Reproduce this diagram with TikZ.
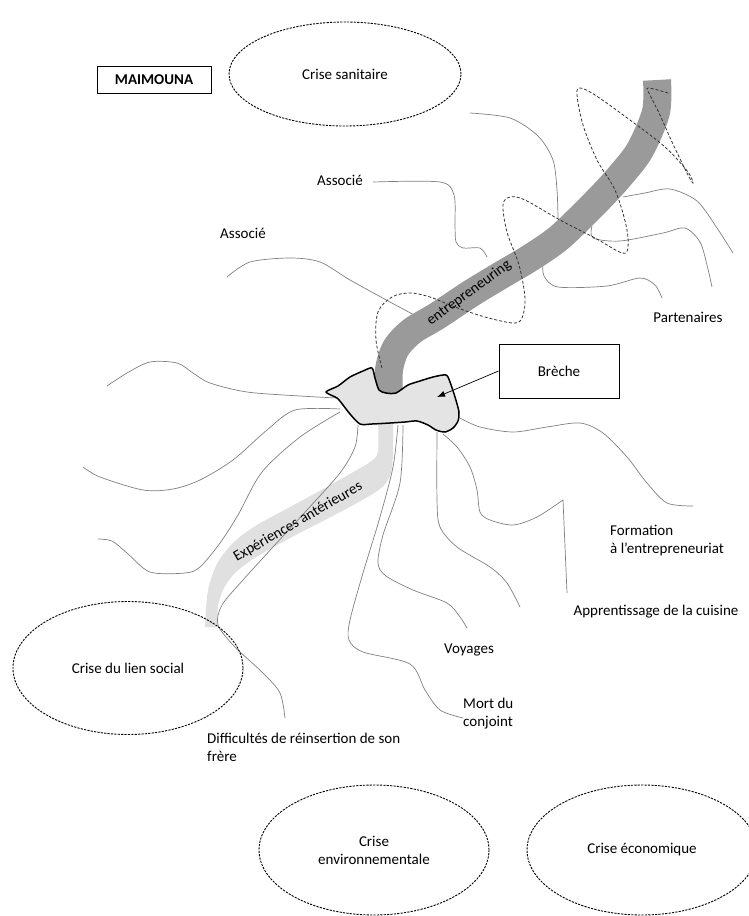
\documentclass[tikz,border=0pt]{standalone}
\usepackage{fontspec}
\setmainfont{Carlito}
\usetikzlibrary{positioning,arrows.meta,shapes.geometric}
\definecolor{bandDark}{HTML}{9A9A9A}
\definecolor{bandLight}{HTML}{E0E0E0}
\definecolor{brecheFill}{HTML}{E4E4E4}
\definecolor{rootGray}{HTML}{808080}
\tikzset{
    crisis/.style={draw=black,ellipse,dash pattern=on 2.2pt off 1.2pt,line width=0.9pt,
        minimum width=230pt,align=center,font=\fontsize{15}{18}\selectfont},
    tag/.style={align=left,inner sep=0pt,font=\fontsize{15}{18}\selectfont},
    framebox/.style={draw=black,line width=0.9pt,align=center,font=\fontsize{15}{18}\selectfont},
    root/.style={draw=rootGray,line width=0.7pt},
    spiral/.style={draw=black!80,dash pattern=on 3pt off 2pt,line width=0.8pt},
    band/.style={line width=#1,line cap=butt},
    pointer/.style={-{Latex[length=8pt,width=6pt]},draw=black,line width=0.7pt}
}

\begin{document}
\begin{tikzpicture}[x=1pt,y=-1pt]
    \useasboundingbox (0,0) rectangle (748,916);
    % bande claire
    \fill[bandLight] plot[smooth] coordinates {(378,420) (378,452) (370,462) (355,471) (323,489) (290,507) (257,525) (235,541) (218,562) (208,590) (205,627)}
        -- plot[smooth] coordinates {(218,627) (218,606) (224,588) (236,572) (258,556) (292,537) (325,520) (357,503) (380,489) (390,476) (393,455) (393,420)} -- cycle;
    % lignes de vie
    \draw[root] plot[smooth] coordinates {(373,182) (440,182) (454,195) (455,225) (456,242) (463,248) (480,248) (487,257)};
    \draw[root] plot[smooth] coordinates {(227,277) (250,262) (290,258) (320,262) (350,280) (390,302) (418,317)};
    \draw[root] plot[smooth] coordinates {(470,113) (510,118) (538,136) (553,160) (557,190) (558,218)};
    \draw[root] plot[smooth] coordinates {(543,262) (544,276) (558,287) (607,286) (640,278) (655,285) (662,298)};
    \draw[root] plot[smooth] coordinates {(592,226) (593,238) (620,241) (663,233) (685,228) (700,242) (707,265) (712,287)};
    \draw[root] plot[smooth] coordinates {(623,197) (645,193) (670,189) (697,201) (717,228) (733,253)};
    \draw[root] plot[smooth] coordinates {(107,386) (127,373) (150,362) (177,363) (193,373) (210,383) (247,392) (300,396) (337,398)};
    \draw[root] plot[smooth] coordinates {(83,467) (100,477) (143,490) (173,489) (200,480) (233,460) (267,430) (295,410) (340,409)};
    \draw[root] plot[smooth] coordinates {(340,412) (300,437) (262,472) (238,515) (220,543) (200,567) (185,573) (150,572) (127,553) (112,541) (98,539)};
    \draw[root] plot[smooth] coordinates {(358,425) (355,447) (340,473) (307,510) (273,547) (243,580) (222,605) (218,625) (235,647) (263,673) (280,693) (285,718)};
    \draw[root] plot[smooth] coordinates {(403,425) (400,483) (383,535) (378,563) (386,576) (413,590) (447,603) (460,617) (467,628)};
    \draw[root] plot[smooth] coordinates {(398,425) (393,467) (380,517) (363,573) (350,620) (349,640) (363,652) (410,664) (425,690) (440,710) (463,718)};
    \draw[root] plot[smooth] coordinates {(437,432) (437,500) (440,527) (457,547) (490,567) (507,583) (520,607)};
    \draw[root] plot[smooth] coordinates {(443,434) (457,447) (470,467) (477,490) (480,512) (490,520) (513,525) (537,517) (563,500)} -- (567,593);
    \draw[root] plot[smooth] coordinates {(460,418) (480,427) (513,432) (547,427) (580,423) (603,433) (627,457) (647,483) (667,503) (693,506)};
    % bande foncee
    \draw[band=28pt,draw=bandDark] plot[smooth] coordinates {(389,400) (389,370) (396,348) (412,331) (437,316) (470,294) (503,274) (530,258) (560,237) (598,200) (620,176) (640,150) (656,112) (657,80)};
    % breche
    \draw[fill=brecheFill,draw=black,line width=1.5pt,line join=round] plot[smooth cycle,tension=0.45] coordinates {(326,392) (338,386) (350,377) (363,371) (372,368) (375,378) (379,390) (386,393) (396,393) (408,385) (420,381) (433,377) (446,375) (450,382) (455,397) (459,412) (458,421) (453,428) (445,432) (436,430) (428,425) (417,421) (405,422) (390,423) (372,424) (360,424) (350,414) (343,405) (337,398)};
    % boucles
    \draw[spiral] plot[smooth,tension=0.55] coordinates {(382,368) (376,340) (378,312) (392,297) (410,293) (430,297) (455,307) (485,317) (513,323) (522,318) (525,298) (519,265) (507,232) (503,205) (510,197) (525,200) (560,220) (595,238) (622,253) (628,247) (626,225) (615,190) (597,160) (583,125) (577,95) (580,88) (595,95) (630,120) (665,147) (688,172) (693,183) (688,175) (672,142) (660,115) (650,95) (648,88) (668,93)};
    % textes des bandes
    \node[tag,rotate=36] (entreLabel) at (469,293) {entrepreneuring};
    \node[tag,rotate=30] (expLabel) at (298,522) {Expériences antérieures};
    % crises
    \node[crisis,minimum width=232pt,minimum height=104pt] (sanitaire) at (345,74) {Crise sanitaire};
    \node[crisis,minimum height=133pt] (lienSocial) at (128,668) {Crise du lien social};
    \node[crisis,minimum height=130pt] (environnement) at (374,850) {Crise\\environnementale};
    \node[crisis,minimum height=130pt] (economique) at (642,850) {Crise économique};
    % cadres
    \node[framebox,line width=0.6pt,minimum width=114pt,minimum height=27pt,font=\fontsize{15}{18}\selectfont\bfseries] (maimouna) at (154,80) {MAIMOUNA};
    \node[framebox,minimum width=120pt,minimum height=54pt] (brecheBox) at (559,371) {Brèche};
    \coordinate (brecheTip) at (437,397);
    \draw[pointer] (brecheBox.west) -- (brecheTip);
    % etiquettes
    \node[tag] (associeHaut) at (340,180) {Associé};
    \node[tag] (associeBas) at (243,233) {Associé};
    \node[tag] (partenaires) at (688,317) {Partenaires};
    \node[tag,anchor=west] (formation) at (610,541) {Formation\\à l’entrepreneuriat};
    \node[tag] (cuisine) at (656,612) {Apprentissage de la cuisine};
    \node[tag] (voyages) at (469,650) {Voyages};
    \node[tag,anchor=west] (conjoint) at (463,714) {Mort du\\conjoint};
    \node[tag,anchor=west] (frere) at (207,747) {Difficultés de réinsertion de son\\frère};
\end{tikzpicture}
\end{document}
